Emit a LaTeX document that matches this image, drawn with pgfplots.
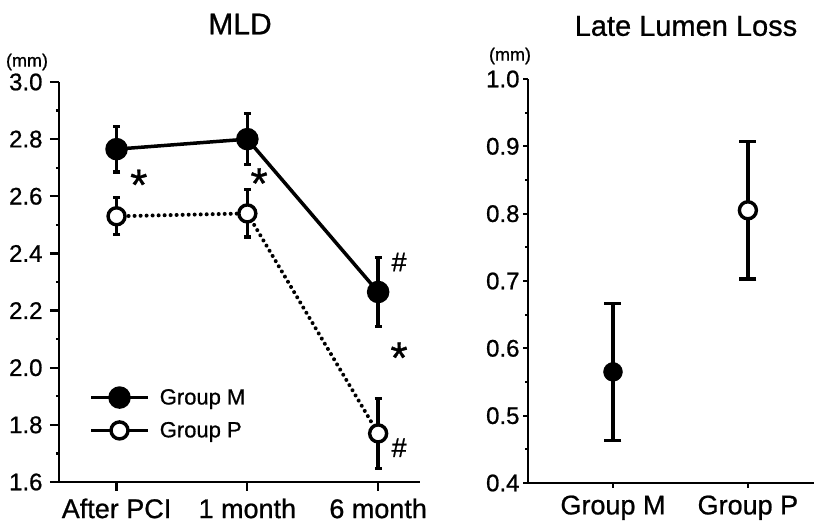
\documentclass[border=0pt]{standalone}
\usepackage{fontspec}
\setmainfont{Liberation Sans}[FakeBold=0.8]
\usepackage{pgfplots}
\pgfplotsset{compat=1.18}
\begin{document}
\begin{tikzpicture}
\useasboundingbox (0,0) rectangle (814pt,526pt);
\pgfplotsset{
  common/.style={
    scale only axis,
    anchor=south west,
    axis lines=left,
    axis line style={-, line width=2.6pt},
    tick align=outside,
    major tick length=7pt,
    minor tick length=3pt,
    every tick/.style={black, line width=2.2pt},
    minor y tick num=1,
    tick label style={font=\fontsize{24}{26}\selectfont},
    xticklabel style={font=\fontsize{27}{29}\selectfont, yshift=-4pt},
    /pgf/number format/.cd, fixed, fixed zerofill, precision=1, assume math mode=true,
    /pgfplots/.cd,
    clip=false,
  },
  ebar/.style={draw=none, mark=none, forget plot,
    error bars/.cd, y dir=both, y explicit,
    error bar style={line width=3.3pt, black},
    error mark options={rotate=90, mark size=#1, line width=3.3pt, black}},
}
% Left panel
\begin{axis}[common, at={(59pt,44pt)}, width=361pt, height=400pt,
  xmin=-0.44, xmax=2.32, xtick={0,1,2},
  xticklabels={After PCI, 1 month, 6 month},
  ymin=1.6, ymax=3.0, ytick={1.6,1.8,...,3.01},
  yticklabel style={/tikz/xshift=-4pt},
  major tick length=9pt,
  legend style={at={(0.075,0.17)}, anchor=west, draw=none, fill=none,
    row sep=12pt, /tikz/every even column/.append style={column sep=0pt}},
  legend cell align=left,
  legend image code/.code={\draw[#1, solid] (0pt,0pt) -- (57pt,0pt); \draw[#1, solid] plot coordinates {(28.5pt,0pt)};},
]
\addplot[ebar=3.5pt] coordinates {(0,2.765) +- (0,0.08) (1,2.80) +- (0,0.09) (2,2.265) +- (0,0.12)};
\addplot[ebar=3.5pt] coordinates {(0,2.53) +- (0,0.065) (1,2.54) +- (0,0.083) (2,1.77) +- (0,0.122)};
\addplot[black, line width=3.5pt, mark=*, mark size=9.5pt, forget plot] coordinates {(0,2.765) (1,2.80) (2,2.265)};
\addplot[black, line width=4pt, line cap=round, dash pattern=on 0.01pt off 6pt, mark=*, mark size=8.5pt, mark options={solid, fill=white, line width=3.4pt}, forget plot] coordinates {(0,2.53) (1,2.54) (2,1.77)};
\addlegendimage{black, line width=3.5pt, mark=*, mark size=9.5pt}
\addlegendentry{\fontsize{22}{24}\selectfont\hspace{8pt}Group M}
\addlegendimage{black, line width=3.5pt, mark=*, mark size=8.5pt, mark options={fill=white, line width=3.4pt}}
\addlegendentry{\fontsize{22}{24}\selectfont\hspace{8pt}Group P}
\node[font=\fontsize{44}{44}\selectfont] at (axis cs:0.17,2.64) {*};
\node[font=\fontsize{44}{44}\selectfont] at (axis cs:1.09,2.645) {*};
\node[font=\fontsize{44}{44}\selectfont] at (axis cs:2.16,2.035) {*};
\node[font=\fontsize{27}{27}\selectfont] at (axis cs:2.16,2.37) {\#};
\node[font=\fontsize{27}{27}\selectfont] at (axis cs:2.16,1.72) {\#};
\end{axis}
% Right panel
\begin{axis}[common, at={(528pt,43pt)}, width=286pt, height=404pt,
  xmin=-0.63, xmax=1.49, xtick={0,1},
  xticklabels={Group M, Group P},
  ymin=0.4, ymax=1.0, ytick={0.4,0.5,...,1.01},
  major tick length=5pt,
]
\addplot[ebar=8.5pt] coordinates {(0,0.565) +- (0,0.102)};
\addplot[ebar=8.5pt] coordinates {(1,0.805) +- (0,0.102)};
\addplot[black, only marks, mark=*, mark size=9.5pt] coordinates {(0,0.565)};
\addplot[black, only marks, mark=*, mark size=8.5pt, mark options={fill=white, line width=3.4pt}] coordinates {(1,0.805)};
\end{axis}
\node[font=\fontsize{30}{32}\selectfont] at (240pt,502pt) {MLD};
\node[font=\fontsize{29}{31}\selectfont] at (686pt,500pt) {Late Lumen Loss};
\node[font=\fontsize{18}{20}\selectfont] at (27pt,464pt) {(mm)};
\node[font=\fontsize{18}{20}\selectfont] at (510pt,470pt) {(mm)};
\end{tikzpicture}
\end{document}
